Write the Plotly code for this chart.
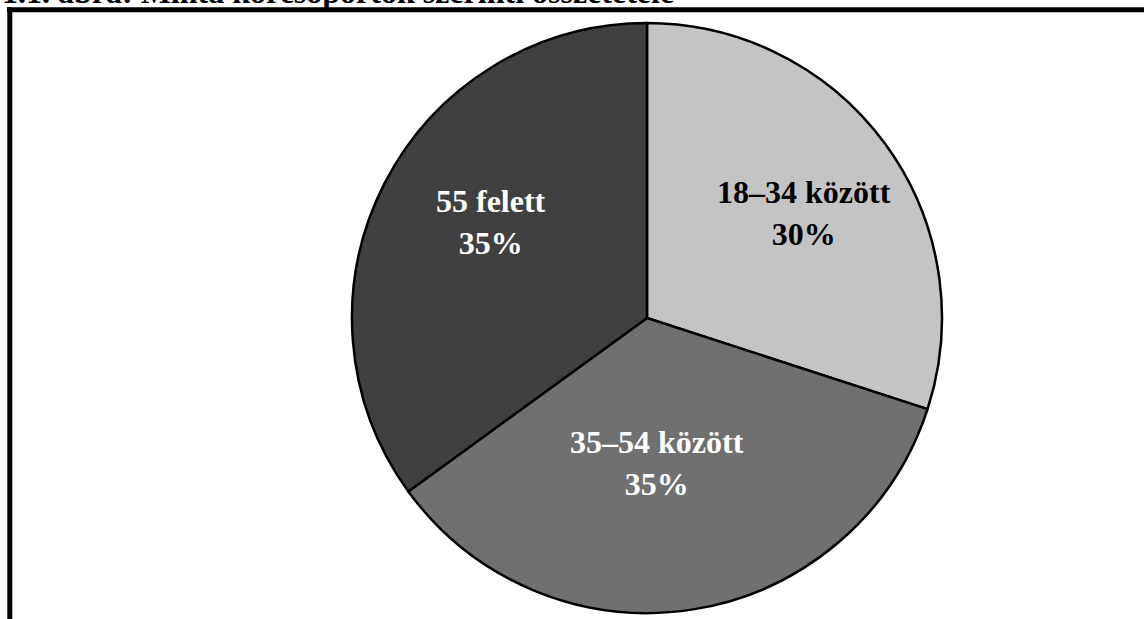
import plotly.graph_objects as go

# data
labels = ["18–34 között", "35–54 között", "55 felett"]
values = [30, 35, 35]
colors = ["#c4c4c4", "#707070", "#404040"]
text_colors = ["#000000", "#ffffff", "#ffffff"]
title_text = "1.1. ábra: Minta korcsoportok szerinti összetétele"

W, H = 1144, 619


def px(x):
    # pixel -> paper x
    return x / W


def py(y):
    # pixel (from top) -> paper y
    return 1 - y / H


fig = go.Figure()
fig.add_trace(
    go.Pie(
        labels=labels,
        values=values,
        sort=False,
        direction="clockwise",
        rotation=0,
        marker=dict(colors=colors, line=dict(color="#000000", width=2.5)),
        textinfo="none",
        hoverinfo="label+percent",
        showlegend=False,
        domain=dict(x=[px(352), px(942)], y=[py(613), py(23)]),
    )
)

# label positions (pixel centres of the text blocks)
label_pos = [(804, 213), (657, 463), (491, 222)]
total = sum(values)
for lab, val, tc, (lx, ly) in zip(labels, values, text_colors, label_pos):
    fig.add_annotation(
        x=px(lx), y=py(ly), xref="paper", yref="paper",
        text=f"<b>{lab}<br>{round(val / total * 100)}%</b>",
        showarrow=False, xanchor="center", yanchor="middle",
        font=dict(family="Liberation Serif", size=32, color=tc),
    )

# cut-off title at the very top
fig.add_annotation(
    x=px(0), y=py(12), xref="paper", yref="paper",
    text=f"<b>{title_text}</b>",
    showarrow=False, xanchor="left", yanchor="bottom",
    font=dict(family="Liberation Serif", size=32, color="#000000"),
)

# frame lines (top and left)
fig.add_shape(type="line", xref="paper", yref="paper",
              x0=px(7), x1=1.02, y0=py(9.8), y1=py(9.8),
              line=dict(color="#000000", width=5))
fig.add_shape(type="line", xref="paper", yref="paper",
              x0=px(9.8), x1=px(9.8), y0=py(7.3), y1=-0.02,
              line=dict(color="#000000", width=5))

fig.update_layout(
    width=W, height=H,
    margin=dict(l=0, r=0, t=0, b=0),
    paper_bgcolor="#ffffff",
    plot_bgcolor="#ffffff",
)
fig.write_html(
    "out.html",
    config={"displayModeBar": False},
    post_script="document.body.style.margin='0';",
)
